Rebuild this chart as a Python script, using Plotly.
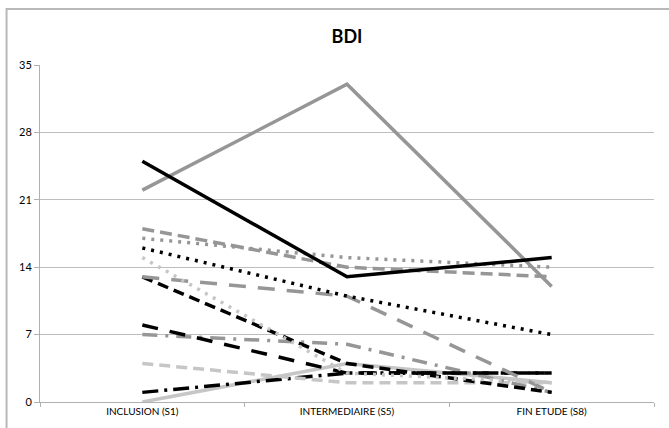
import plotly.graph_objects as go

categories = ["INCLUSION (S1)", "INTERMEDIAIRE (S5)", "FIN ETUDE (S8)"]
y_ticks = [0, 7, 14, 21, 28, 35]

gray_solid = [22, 33, 12]
black_solid = [25, 13, 15]
gray_dash = [18, 14, 13]
gray_dot = [17, 15, 14]
black_dot = [16, 11, 7]
light_dot = [15, 3, 2]
gray_longdash = [13, 11, 1]
black_dash = [13, 4, 1]
black_longdash = [8, 3, 3]
gray_dashdot = [7, 6, 1]
light_dash = [4, 2, 2]
black_dashdot = [1, 3, 3]
light_solid = [0, 4, 2]

BLACK = "#000000"
GRAY = "#969696"
LIGHT = "#C6C6C6"

series = [
    (light_solid, LIGHT, "solid"),
    (black_dashdot, BLACK, "16px,6px,3px,6px"),
    (light_dash, LIGHT, "11px,6px"),
    (gray_dashdot, GRAY, "15px,8px,3px,8px"),
    (black_longdash, BLACK, "16px,12px"),
    (black_dash, BLACK, "11px,6px"),
    (gray_longdash, GRAY, "17px,12px"),
    (light_dot, LIGHT, "3px,6px"),
    (black_dot, BLACK, "3px,6px"),
    (gray_dot, GRAY, "3px,6px"),
    (gray_dash, GRAY, "12px,6px"),
    (gray_solid, GRAY, "solid"),
    (black_solid, BLACK, "solid"),
]

fig = go.Figure()
for vals, col, dash in series:
    fig.add_trace(go.Scatter(
        x=categories, y=vals, mode="lines",
        line=dict(color=col, width=3.5, dash=dash),
        showlegend=False, hoverinfo="skip",
    ))

W, H = 669, 428
L, R, T, B = 39.5, 14.5, 65, 26
pw = W - L - R
ph = H - T - B

fig.update_layout(
    width=W, height=H,
    margin=dict(l=L, r=R, t=T, b=B),
    paper_bgcolor="white", plot_bgcolor="white",
    title=dict(text="<b>BDI</b>", x=(L + pw / 2) / W, xanchor="center",
               y=1 - 37 / H, yanchor="middle",
               font=dict(family="Lato, Open Sans, sans-serif", size=18, color="#000")),
    font=dict(family="Lato, Open Sans, sans-serif", color="#000"),
    shapes=[dict(type="rect", xref="paper", yref="paper",
                 x0=(6 - L) / pw, x1=(700 - L) / pw,
                 y0=(H - B - 460) / ph, y1=(H - B - 9) / ph,
                 line=dict(color="#B8B8B8", width=2), fillcolor="rgba(0,0,0,0)",
                 layer="below")],
)
fig.update_xaxes(
    type="category", range=[-0.5, 2.5],
    showline=True, linecolor="#B0B0B0", linewidth=1,
    ticks="outside", tickson="boundaries", ticklen=4, tickcolor="#B0B0B0",
    showgrid=False, tickfont=dict(size=10, color="#000"),
)
fig.update_yaxes(
    range=[0, 35], tickvals=y_ticks,
    showline=True, linecolor="#B0B0B0", linewidth=1,
    ticks="outside", ticklen=5, tickcolor="#B0B0B0",
    showgrid=True, gridcolor="#BDBDBD", gridwidth=1, zeroline=False,
    tickfont=dict(size=11, color="#000"),
)

fig.write_html("out.html", config={"displayModeBar": False},
               post_script="document.body.style.margin='0';document.body.style.overflow='hidden';")
